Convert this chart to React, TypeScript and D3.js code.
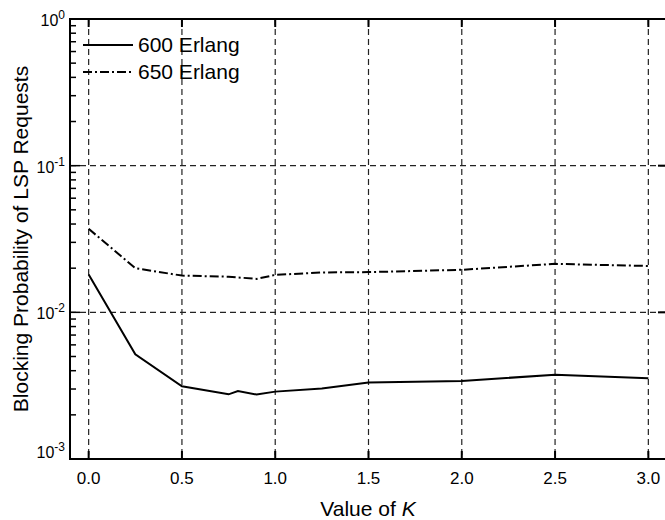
import React from 'react';
import * as d3 from 'd3';

const kValues = [0, 0.25, 0.5, 0.75, 0.8, 0.9, 1.0, 1.25, 1.5, 2.0, 2.5, 3.0];
const erlang600 = [0.0181, 0.00517, 0.00313, 0.00276, 0.00291, 0.00275, 0.00288, 0.00302, 0.00332, 0.0034, 0.00376, 0.00355];
const erlang650 = [0.0371, 0.02, 0.0178, 0.0175, 0.0173, 0.0169, 0.018, 0.0187, 0.0188, 0.0195, 0.0214, 0.0207];
const seriesNames = ['600 Erlang', '650 Erlang'];
const xTicks = [0, 0.5, 1.0, 1.5, 2.0, 2.5, 3.0];
const yExponents = [0, -1, -2, -3];

const W = 665;
const H = 520;
const left = 70;
const right = 667;
const top = 19;
const bottom = 459;
const font = 'Liberation Sans, Arial, Helvetica, sans-serif';

export default function App() {
  const x = d3.scaleLinear().domain([-0.1, 3.1]).range([left, right]);
  const y = d3.scaleLog().domain([1e-3, 1]).range([bottom, top]);
  const line = d3
    .line<number>()
    .x((_, i) => x(kValues[i]))
    .y((d) => y(d));

  const minor: number[] = [];
  for (let e = -3; e < 0; e++) {
    for (let m = 2; m <= 9; m++) minor.push(m * Math.pow(10, e));
  }

  return (
    <svg
      width={W}
      height={H}
      style={{ position: 'absolute', left: 0, top: 0, background: '#fff' }}
      fontFamily={font}
    >
      <rect x={0} y={0} width={W} height={H} fill="#fff" />
      {/* grid */}
      {xTicks.map((t) => (
        <line key={'gx' + t} x1={x(t)} x2={x(t)} y1={top} y2={bottom} stroke="#222" strokeWidth={1.2} strokeDasharray="6,4" />
      ))}
      {[-1, -2].map((e) => (
        <line key={'gy' + e} x1={left} x2={right} y1={y(Math.pow(10, e))} y2={y(Math.pow(10, e))} stroke="#222" strokeWidth={1.2} strokeDasharray="6,4" />
      ))}
      {/* ticks */}
      {minor.map((v) => (
        <line key={'mt' + v} x1={left} x2={left + 6} y1={y(v)} y2={y(v)} stroke="#000" strokeWidth={1.5} />
      ))}
      {yExponents.map((e) => (
        <g key={'Mt' + e}>
          <line x1={left} x2={left + 10} y1={y(Math.pow(10, e))} y2={y(Math.pow(10, e))} stroke="#000" strokeWidth={1.5} />
          <line x1={right} x2={right - 9} y1={y(Math.pow(10, e))} y2={y(Math.pow(10, e))} stroke="#000" strokeWidth={2} />
        </g>
      ))}
      {xTicks.map((t) => (
        <g key={'xt' + t}>
          <line x1={x(t)} x2={x(t)} y1={bottom} y2={bottom - 8} stroke="#000" strokeWidth={2} />
          <line x1={x(t)} x2={x(t)} y1={top} y2={top + 8} stroke="#000" strokeWidth={2} />
        </g>
      ))}
      {/* frame */}
      <rect x={left} y={top} width={right - left} height={bottom - top} fill="none" stroke="#000" strokeWidth={2} />
      {/* data */}
      <path d={line(erlang600) || ''} fill="none" stroke="#000" strokeWidth={2} />
      <path d={line(erlang650) || ''} fill="none" stroke="#000" strokeWidth={2} strokeDasharray="9,3,2,3" />
      {/* legend */}
      <line x1={83} x2={133} y1={45} y2={45} stroke="#000" strokeWidth={2} />
      <text x={138} y={52} fontSize={21}>{seriesNames[0]}</text>
      <line x1={83} x2={133} y1={72} y2={72} stroke="#000" strokeWidth={2} strokeDasharray="9,3,2,3" />
      <text x={138} y={79} fontSize={21}>{seriesNames[1]}</text>
      {/* x tick labels */}
      {xTicks.map((t) => (
        <text key={'xl' + t} x={x(t)} y={484} fontSize={17} textAnchor="middle">
          {t.toFixed(1)}
        </text>
      ))}
      {/* y tick labels */}
      {yExponents.map((e) => {
        const yy = Math.min(y(Math.pow(10, e)) + 7, bottom - 1);
        return (
          <text key={'yl' + e} x={65} y={yy} fontSize={16} textAnchor="end">
            10
            <tspan dy={-7} fontSize={12}>{e === 0 ? '0' : String(e)}</tspan>
          </text>
        );
      })}
      {/* axis titles */}
      <text x={368} y={516} fontSize={21} textAnchor="middle">
        Value of <tspan fontStyle="italic">K</tspan>
      </text>
      <text transform="translate(28, 239) rotate(-90)" fontSize={21} textAnchor="middle">
        Blocking Probability of LSP Requests
      </text>
    </svg>
  );
}
